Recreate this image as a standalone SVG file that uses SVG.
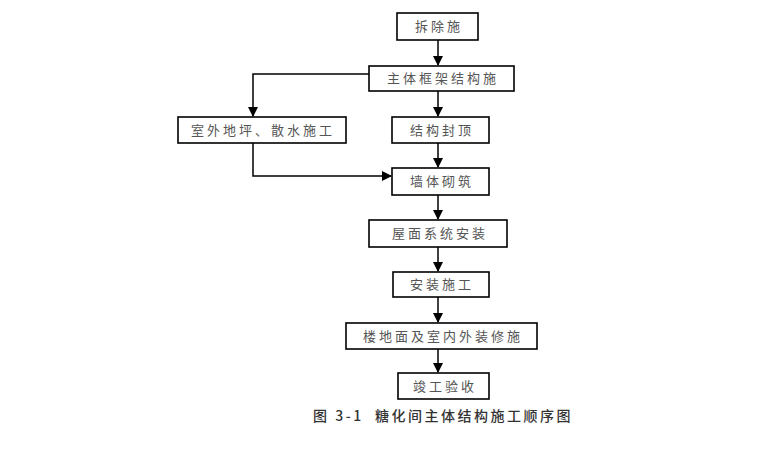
<svg xmlns="http://www.w3.org/2000/svg" width="760" height="450" viewBox="0 0 760 450">
<defs>
<marker id="ah" markerWidth="10" markerHeight="10" refX="9" refY="5" orient="auto" markerUnits="userSpaceOnUse">
<path d="M0,0 L10,5 L0,10 Z" fill="#000"/>
</marker>
<style>
.box{fill:#fff;stroke:#000;stroke-width:1.6}
.t{font-family:"Noto Sans CJK SC","Noto Sans CJK JP",sans-serif;font-size:13px;fill:#555;letter-spacing:3px;text-anchor:middle}
.c{fill:none;stroke:#000;stroke-width:1.5}
.cap{font-family:"Noto Sans CJK SC",sans-serif;font-size:14px;fill:#333;font-weight:500;letter-spacing:2.5px}
</style>
</defs>
<rect width="760" height="450" fill="#fff"/>
<g id="connectors">
<path class="c" d="M438,40 V65" marker-end="url(#ah)"/>
<path class="c" d="M438,91 V116" marker-end="url(#ah)"/>
<path class="c" d="M369,74 H253 V116" marker-end="url(#ah)"/>
<path class="c" d="M253,143 V176 H391" marker-end="url(#ah)"/>
<path class="c" d="M438,143 V167" marker-end="url(#ah)"/>
<path class="c" d="M438,195 V219" marker-end="url(#ah)"/>
<path class="c" d="M438,247 V271" marker-end="url(#ah)"/>
<path class="c" d="M438,297 V322" marker-end="url(#ah)"/>
<path class="c" d="M438,349 V372" marker-end="url(#ah)"/>
</g>
<g id="n1"><rect class="box" x="397" y="13" width="81" height="27"/><text class="t" x="439" y="31">拆除施</text></g>
<g id="n2"><rect class="box" x="369" y="66" width="145" height="25"/><text class="t" x="443" y="83">主体框架结构施</text></g>
<g id="n3"><rect class="box" x="178" y="117" width="168" height="26"/><text class="t" x="263" y="135">室外地坪、散水施工</text></g>
<g id="n4"><rect class="box" x="392" y="117" width="97" height="26"/><text class="t" x="442" y="135">结构封顶</text></g>
<g id="n5"><rect class="box" x="392" y="168" width="97" height="27"/><text class="t" x="442" y="186">墙体砌筑</text></g>
<g id="n6"><rect class="box" x="369" y="220" width="138" height="27"/><text class="t" x="440" y="238">屋面系统安装</text></g>
<g id="n7"><rect class="box" x="393" y="272" width="96" height="25"/><text class="t" x="442" y="289">安装施工</text></g>
<g id="n8"><rect class="box" x="346" y="323" width="191" height="26"/><text class="t" x="443" y="341">楼地面及室内外装修施</text></g>
<g id="n9"><rect class="box" x="398" y="373" width="91" height="26"/><text class="t" x="445" y="391">竣工验收</text></g>
<text class="cap" x="313" y="421">图 3-1<tspan x="375">糖化间主体结构施工顺序图</tspan></text>
</svg>
